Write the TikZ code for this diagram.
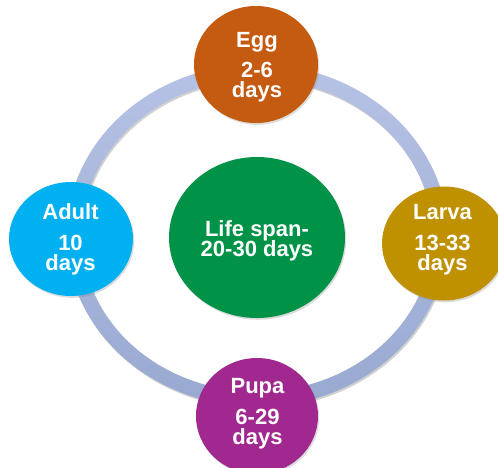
\documentclass[tikz,border=0pt]{standalone}
\usepackage{fontspec}
\setmainfont{Liberation Sans}
\usetikzlibrary{shapes.geometric,shadows}
\definecolor{eggc}{RGB}{197,90,17}
\definecolor{adultc}{RGB}{0,176,240}
\definecolor{larvac}{RGB}{191,144,0}
\definecolor{pupac}{RGB}{160,40,142}
\definecolor{lifec}{RGB}{0,146,70}
\definecolor{ringtop}{RGB}{182,194,229}
\definecolor{ringbot}{RGB}{152,169,208}
\begin{document}
\begin{tikzpicture}[x=1pt,y=-1pt,
  stage/.style={ellipse, inner sep=0pt, draw=none,
    drop shadow={shadow xshift=1.2pt,shadow yshift=-1.8pt,opacity=0.28}},
  lbl/.style={anchor=base, text=white, inner sep=0pt,
    font=\bfseries\fontsize{22}{24}\selectfont}]
\useasboundingbox (0,0) rectangle (498,467);
\fill[white] (0,0) rectangle (498,467);
% ring shadow
\fill[black, opacity=0.18, even odd rule]
  (258.2,237.3) ellipse [x radius=190.5pt, y radius=171.1pt]
  (258.2,237.3) ellipse [x radius=175.5pt, y radius=156.1pt];
% ring
\shade[top color=ringtop, bottom color=ringbot, even odd rule]
  (257,235.5) ellipse [x radius=190.5pt, y radius=171.1pt]
  (257,235.5) ellipse [x radius=175.5pt, y radius=156.1pt];
% stage circles
\node[stage, fill=eggc, minimum width=124pt, minimum height=117pt] (egg) at (256,64.5) {};
\node[stage, fill=adultc, minimum width=124pt, minimum height=114pt] (adult) at (71,239) {};
\node[stage, fill=larvac, minimum width=124pt, minimum height=114pt] (larva) at (444,243.5) {};
\node[stage, fill=pupac, minimum width=122pt, minimum height=116pt] (pupa) at (257,416) {};
\node[stage, fill=lifec, minimum width=176pt, minimum height=161pt] (life) at (257,237.5) {};
% labels
\node[lbl] (egg1) at (257,47) {Egg};
\node[lbl] (egg2) at (257,77) {2-6};
\node[lbl] (egg3) at (257,97) {days};
\node[lbl] (adult1) at (70.5,219) {Adult};
\node[lbl] (adult2) at (70.5,250) {10};
\node[lbl] (adult3) at (70.5,270) {days};
\node[lbl] (larva1) at (442.5,219) {Larva};
\node[lbl] (larva2) at (442.5,250) {13-33};
\node[lbl] (larva3) at (442.5,270) {days};
\node[lbl] (pupa1) at (257.5,393) {Pupa};
\node[lbl] (pupa2) at (257.5,424) {6-29};
\node[lbl] (pupa3) at (257.5,444.5) {days};
\node[lbl] (life1) at (257,236) {Life span-};
\node[lbl] (life2) at (257,256) {20-30 days};
\end{tikzpicture}
\end{document}
